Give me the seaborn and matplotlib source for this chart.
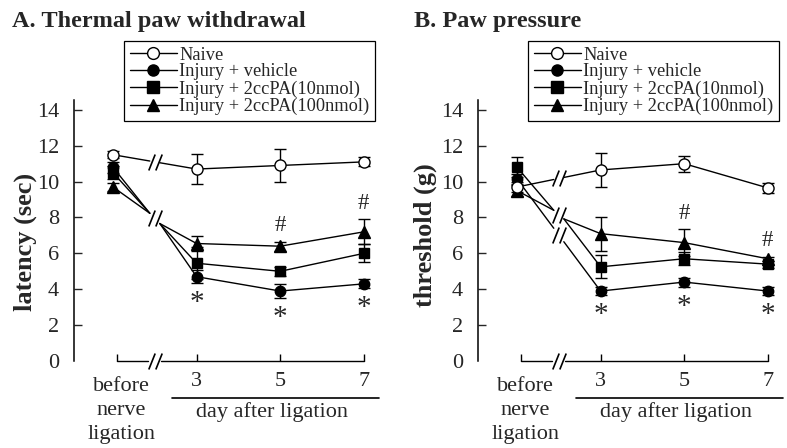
import numpy as np
import pandas as pd
import matplotlib
matplotlib.use("Agg")
import matplotlib.pyplot as plt
import seaborn as sns
from matplotlib.path import Path
from matplotlib.lines import Line2D

# ---------------- data ----------------
groups = ["Naive", "Injury + vehicle", "Injury + 2ccPA(10nmol)", "Injury + 2ccPA(100nmol)"]
time_labels = ["before\nnerve\nligation", "3", "5", "7"]
day_axis_label = "day after ligation"

titleA = "A. Thermal paw withdrawal"
ylabelA = "latency (sec)"
naive_A = [11.5, 10.7, 10.9, 11.1]
naive_A_err = [0.2, 0.85, 0.9, 0.25]
vehicle_A = [10.8, 4.7, 3.9, 4.3]
vehicle_A_err = [0.3, 0.35, 0.4, 0.25]
low_A = [10.5, 5.45, 5.0, 6.0]
low_A_err = [0.35, 0.9, 0.25, 0.5]
high_A = [9.7, 6.55, 6.4, 7.2]
high_A_err = [0.25, 0.4, 0.25, 0.7]
star_A = ["", "*", "*", "*"]
hash_A = ["", "", "#", "#"]

titleB = "B. Paw pressure"
ylabelB = "threshold (g)"
naive_B = [9.7, 10.65, 11.0, 9.65]
naive_B_err = [0.3, 0.95, 0.45, 0.3]
vehicle_B = [10.15, 3.9, 4.4, 3.9]
vehicle_B_err = [0.3, 0.2, 0.25, 0.2]
low_B = [10.8, 5.25, 5.7, 5.4]
low_B_err = [0.55, 0.65, 0.35, 0.2]
high_B = [9.5, 7.1, 6.6, 5.7]
high_B_err = [0.3, 0.95, 0.75, 0.1]
star_B = ["", "*", "*", "*"]
hash_B = ["", "", "#", "#"]

yticks = [0, 2, 4, 6, 8, 10, 12, 14]

# ---------------- style ----------------
sns.set_style("white")
plt.rcParams["font.family"] = ["Liberation Serif", "DejaVu Serif"]

markers = ["o", "o", "s", "^"]
facecols = ["white", "black", "black", "black"]
msizes = [8, 7.5, 7.5, 8.5]

brk = Path([(-0.42, -0.5), (-0.02, 0.5), (0.02, -0.5), (0.42, 0.5)],
           [Path.MOVETO, Path.LINETO, Path.MOVETO, Path.LINETO])
uptick = Path([(0, 0), (0, 1)], [Path.MOVETO, Path.LINETO])

W, H = 787, 448
fig = plt.figure(figsize=(W / 100, H / 100), dpi=100)

XL, XR = -0.47, 3.2
Y0, Y1 = 0, 14.55


def panel(ax, means, errs, stars, hashes, title, ylabel, title_px, ylab_px, legend_px):
    x = np.arange(len(time_labels))
    for i, g in enumerate(groups):
        v = means[i]
        df = pd.DataFrame({"x": x[1:], "v": v[1:]})
        sns.lineplot(data=df, x="x", y="v", ax=ax, color="k", lw=1.0,
                     marker=markers[i], ms=msizes[i], mfc=facecols[i], mec="k",
                     mew=1.0, errorbar=None, legend=False, zorder=5 + (i == 0))
        ax.errorbar(x, v, yerr=errs[i], fmt="none", ecolor="k", elinewidth=1.0,
                    capsize=4, capthick=1.0, zorder=3)
        ax.plot([x[0]], [v[0]], ls="none", marker=markers[i], ms=msizes[i],
                mfc=facecols[i], mec="k", mew=1.0, zorder=5 + (i == 0))

    # broken segments between "before" and day 3
    mids = np.array([(m[0] + m[1]) / 2 for m in means])
    slopes = np.array([m[1] - m[0] for m in means])
    order = np.argsort(mids)
    clusters = [[order[0]]]
    for k in order[1:]:
        if mids[k] - mids[clusters[-1][-1]] < 0.5:
            clusters[-1].append(k)
        else:
            clusters.append([k])
    for cl in clusters:
        gm = mids[cl].mean()
        s = slopes[cl].mean()
        for k in cl:
            v = means[k]
            ax.plot([0, 0.44], [v[0], gm - 0.06 * s], color="k", lw=1.0, zorder=2)
            ax.plot([0.56, 1], [gm + 0.06 * s, v[1]], color="k", lw=1.0, zorder=2)
        ax.plot([0.5], [gm], ls="none", marker=brk, ms=11.5, mew=1.2, color="k", zorder=2)

    # significance marks
    veh, veh_e = means[1], errs[1]
    hi, hi_e = means[3], errs[3]
    for j in range(len(time_labels)):
        if stars[j]:
            ax.annotate(stars[j], xy=(j, veh[j] - veh_e[j]), xytext=(0, -5),
                        textcoords="offset points", ha="center", va="top", fontsize=21)
        if hashes[j]:
            ax.annotate(hashes[j], xy=(j, hi[j] + hi_e[j]), xytext=(0, 4),
                        textcoords="offset points", ha="center", va="bottom", fontsize=16.5)

    # axes
    ax.set_xlim(XL, XR)
    ax.set_ylim(Y0, Y1)
    ax.set_yticks(yticks)
    ax.set_yticklabels([str(t) for t in yticks])
    ax.set_xticks([])
    ax.set_xlabel("")
    ax.set_ylabel("")
    ax.tick_params(axis="y", direction="in", length=5.8, width=1.0, pad=10.5,
                   labelsize=16, left=True)
    ax.yaxis.get_major_ticks()[0].tick1line.set_visible(False)
    for sp in ["top", "right", "bottom"]:
        ax.spines[sp].set_visible(False)
    ax.spines["left"].set_linewidth(1.1)
    ax.spines["left"].set_color("k")

    # custom broken x-axis
    ax.plot([0.05, 0.42], [0, 0], color="k", lw=1.0, clip_on=False)
    ax.plot([0.58, 3.0], [0, 0], color="k", lw=1.0, clip_on=False)
    ax.plot([0.5], [0], ls="none", marker=brk, ms=11.5, mew=1.2, color="k", clip_on=False)
    ax.plot([0.05, 1, 2, 3], [0, 0, 0, 0], ls="none", marker=uptick, ms=9.5,
            mew=1.0, color="k", clip_on=False)

    tr = ax.get_xaxis_transform()
    ax.text(0.1, -0.189, time_labels[0], transform=tr, ha="center", va="center",
            fontsize=16, linespacing=1.38)
    for j in range(1, len(time_labels)):
        ax.text(j, -0.079, time_labels[j], transform=tr, ha="center", va="center",
                fontsize=16)
    ax.plot([0.71, 3.18], [-0.143, -0.143], transform=tr, color="k", lw=1.2, clip_on=False)
    ax.text(1.9, -0.194, day_axis_label, transform=tr, ha="center", va="center",
            fontsize=16)

    fig.text(title_px / W, 1 - 21 / H, title, fontsize=17.5, fontweight="bold",
             ha="left", va="center")
    fig.text(ylab_px[0] / W, 1 - ylab_px[1] / H, ylabel, fontsize=19, fontweight="bold",
             rotation=90, ha="center", va="center")

    handles = [Line2D([0], [0], color="k", lw=1.0, marker=markers[i], ms=msizes[i] + 0.5,
                      mfc=facecols[i], mec="k", mew=1.0) for i in range(len(groups))]
    leg = ax.legend(handles, groups, loc="upper left",
                    bbox_to_anchor=(legend_px[0] / W, 1 - legend_px[1] / H),
                    bbox_transform=fig.transFigure, borderaxespad=0, fontsize=13.2,
                    frameon=True, fancybox=False, shadow=False, framealpha=1,
                    edgecolor="k", handlelength=2.6, handletextpad=0.12,
                    labelspacing=0.0, borderpad=0.3)
    leg.get_frame().set_linewidth(0.9)


ppx = 83.6
axA = fig.add_axes([(113 - 0.47 * ppx) / W, 1 - 361 / H, (XR - XL) * ppx / W, 261 / H])
axB = fig.add_axes([(517 - 0.47 * ppx) / W, 1 - 361 / H, (XR - XL) * ppx / W, 261 / H])

panel(axA, [naive_A, vehicle_A, low_A, high_A],
      [naive_A_err, vehicle_A_err, low_A_err, high_A_err],
      star_A, hash_A, titleA, ylabelA, 12, (25, 241.5), (124, 41))
panel(axB, [naive_B, vehicle_B, low_B, high_B],
      [naive_B_err, vehicle_B_err, low_B_err, high_B_err],
      star_B, hash_B, titleB, ylabelB, 414, (425, 235), (528, 41))

fig.savefig("out.png", dpi=100)
